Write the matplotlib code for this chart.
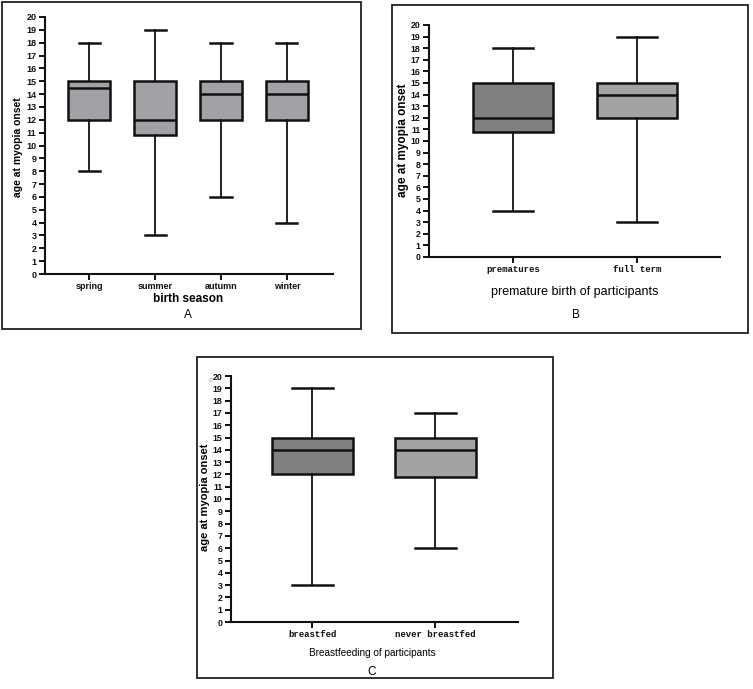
import matplotlib
matplotlib.use("Agg")
import matplotlib.pyplot as plt
from matplotlib.patches import Rectangle

W, H = 753, 689

# ---- data ----
season_cats = ["spring", "summer", "autumn", "winter"]
season_low = [8, 3, 6, 4]
season_q1 = [12, 10.8, 12, 12]
season_med = [14.5, 12, 14, 14]
season_q3 = [15, 15, 15, 15]
season_high = [18, 19, 18, 18]

premature_cats = ["prematures", "full term"]
premature_low = [4, 3]
premature_q1 = [10.8, 12]
premature_med = [12, 14]
premature_q3 = [15, 15]
premature_high = [18, 19]

breast_cats = ["breastfed", "never breastfed"]
breast_low = [3, 6]
breast_q1 = [12, 11.8]
breast_med = [14, 14]
breast_q3 = [15, 15]
breast_high = [19, 17]

yticks = list(range(0, 21))

fig = plt.figure(figsize=(W / 100, H / 100), dpi=100)
fig.patch.set_facecolor("white")


def px_axes(l, r, top, bottom):
    return fig.add_axes([l / W, 1 - bottom / H, (r - l) / W, (bottom - top) / H])


def frame(l, r, top, bottom):
    fig.patches.append(Rectangle((l / W, 1 - bottom / H), (r - l) / W, (bottom - top) / H,
                                 transform=fig.transFigure, fill=False,
                                 edgecolor="#222222", linewidth=1.3))


def ftext(x, y, s, **kw):
    kw.setdefault("rotation", 0)
    fig.text(x / W, 1 - y / H, s, ha="center", va="center", **kw)


def draw(ax, cats, lo, q1, med, q3, hi, colors, width, xlim, tickfont, ytickfs):
    stats = []
    for c, a, b, m, d, e in zip(cats, lo, q1, med, q3, hi):
        stats.append(dict(label=c, whislo=a, q1=b, med=m, q3=d, whishi=e, fliers=[]))
    pos = list(range(1, len(cats) + 1))
    bp = ax.bxp(stats, positions=pos, widths=width, patch_artist=True, showfliers=False,
                boxprops=dict(linewidth=1.8, edgecolor="#111111"),
                medianprops=dict(linewidth=1.8, color="#111111"),
                whiskerprops=dict(linewidth=1.3, color="#111111"),
                capprops=dict(linewidth=1.8, color="#111111"),
                capwidths=width * 0.5)
    for patch, col in zip(bp["boxes"], colors):
        patch.set_facecolor(col)
    ax.set_xlim(*xlim)
    ax.set_ylim(0, 20)
    ax.set_yticks(yticks)
    ax.set_yticklabels([str(t) for t in yticks], fontsize=ytickfs, fontweight="bold",
                       family="Liberation Sans")
    ax.set_xticks(pos)
    ax.set_xticklabels(cats, fontsize=6.5, fontweight="bold", family=tickfont)
    for s in ["top", "right"]:
        ax.spines[s].set_visible(False)
    for s in ["left", "bottom"]:
        ax.spines[s].set_linewidth(1.5)
        ax.spines[s].set_color("#111111")
    ax.tick_params(axis="both", direction="out", length=4, width=1.4, pad=2, colors="#111111")
    ax.set_facecolor("white")


# Panel A
axA = px_axes(45, 333, 17, 274)
draw(axA, season_cats, season_low, season_q1, season_med, season_q3, season_high,
     ["#a2a2a6"] * 4, 0.64, (0.33, 4.7), "Liberation Sans", 6.5)
frame(2, 361, 2, 329)
ftext(18, 147, "age at myopia onset", rotation=90, fontsize=7.5, fontweight="bold",
      family="Liberation Sans")
ftext(188, 299, "birth season", fontsize=8.5, fontweight="bold", family="Liberation Sans")
ftext(188, 315, "A", fontsize=8.5, family="Liberation Sans")

# Panel B
axB = px_axes(429, 720, 25, 257)
draw(axB, premature_cats, premature_low, premature_q1, premature_med, premature_q3, premature_high,
     ["#808080", "#a3a3a6"], 0.65, (0.32, 2.67), "Liberation Mono", 6.3)
frame(392, 748, 5, 333)
ftext(403, 140, "age at myopia onset", rotation=90, fontsize=8.5, fontweight="bold",
      family="Liberation Sans")
ftext(575, 292, "premature birth of participants", fontsize=9, family="Liberation Sans")
ftext(576, 315, "B", fontsize=8.5, family="Liberation Sans")

# Panel C
axC = px_axes(231, 518, 376, 622)
draw(axC, breast_cats, breast_low, breast_q1, breast_med, breast_q3, breast_high,
     ["#808080", "#a3a3a6"], 0.66, (0.34, 2.67), "Liberation Mono", 6.3)
frame(197, 553, 357, 678)
ftext(205, 497, "age at myopia onset", rotation=90, fontsize=8, fontweight="bold",
      family="Liberation Sans")
ftext(211, 380, "c", fontsize=6, color="#999999", family="Liberation Sans")
ftext(372, 653, "Breastfeeding of participants", fontsize=7.2, family="Liberation Sans")
ftext(372, 672, "C", fontsize=8.5, family="Liberation Sans")

fig.savefig("out.png", dpi=100, facecolor="white")
